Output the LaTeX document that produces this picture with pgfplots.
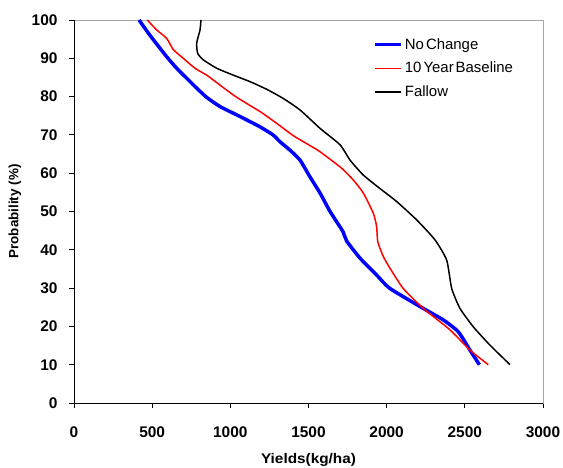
\documentclass[border=0pt]{standalone}
\usepackage{fontspec}
\setmainfont{Liberation Sans}
\newfontfamily\widefont{Liberation Sans}[FakeStretch=1.1]
\usepackage{pgfplots}
\pgfplotsset{compat=1.18}
\begin{document}
\begin{tikzpicture}[x=1bp,y=1bp]
\path[use as bounding box] (-74bp,-65bp) rectangle (489bp,403bp);
\begin{axis}[
  at={(0,0)}, anchor=south west,
  scale only axis, width=469bp, height=383bp,
  xmin=0, xmax=3000, ymin=0, ymax=100,
  xtick={0,500,...,3000}, ytick={0,10,...,100},
  tick pos=left, tick align=outside, major tick length=5bp,
  axis line style={gray!70, line width=0.8bp},
  tick style={black, line width=0.8bp},
  /pgf/number format/assume math mode=true,
  /pgf/number format/1000 sep={},
  ticklabel style={font=\fontsize{15.5}{18}\selectfont\bfseries},
  xticklabel style={yshift=-15bp},
  yticklabel style={xshift=-8bp},
  every axis y label/.style={at={(axis description cs:-0.126,0.5)}, rotate=90, anchor=center},
  every axis x label/.style={at={(axis description cs:0.5,-0.149)}, anchor=center},
  xlabel style={font=\widefont\fontsize{14}{16}\selectfont\bfseries},
  ylabel style={font=\fontsize{13.5}{16}\selectfont\bfseries},
  xlabel={Yields(kg/ha)}, ylabel={Probability (\%)},
  legend style={at={(axis description cs:0.638,0.958)}, anchor=north west, draw=none, fill=none,
    font=\fontsize{15}{17}\selectfont, row sep=7.5bp, inner sep=0pt,
    nodes={inner sep=2bp}},
  legend cell align=left,
  legend image code/.code={\draw[#1] (0bp,0bp) -- (26bp,0bp);},
  line join=round,
]
\addplot[blue, line width=3.5bp, smooth, tension=0.35] coordinates {
(416,100) (486,96) (593,90.4) (657,87.4) (721,84.8) (785,82.2) (849,79.8) (934,77.4)
(1062,74.8) (1190,72.1) (1273,70) (1318,68.2) (1382,66) (1446,63.4) (1510,59)
(1574,54.8) (1638,50) (1721,44.7) (1744,42.3) (1830,37.8) (1936,33.4) (2021,29.9)
(2234,24.7) (2362,21.7) (2458,18.6) (2533,13.8) (2593,10)
};
\addlegendentry{No\kern2bp Change}
\addplot[red, line width=1.5bp, smooth, tension=0.35] coordinates {
(469,100) (529,97.4) (593,95.2) (635,92.3) (699,90) (774,87.4) (849,85.6) (934,83)
(1041,79.8) (1190,76.1) (1297,73) (1403,69.8) (1510,67.2) (1574,65.6) (1712,61.3)
(1787,58.2) (1851,54.8) (1915,49.5) (1936,46) (1943,42.1) (1979,38.2) (2021,35.2)
(2106,29.9) (2234,24.7) (2405,19.1) (2533,13.8) (2650,10)
};
\addlegendentry{10\kern2bp Year\kern2bp Baseline}
\addplot[black, line width=1.5bp, smooth, tension=0.35] coordinates {
(812,100) (806,97.4) (785,94) (791,91.3) (827,89.6) (913,87.4) (1019,85.6) (1126,83.9)
(1233,81.9) (1339,79.5) (1446,76.5) (1574,71.7) (1702,67.4) (1766,63.4) (1851,59.5)
(1957,56) (2064,52.6) (2192,47.8) (2309,42.6) (2384,37.3) (2416,29.9) (2469,24.7)
(2554,19.9) (2661,15.1) (2789,10)
};
\addlegendentry{Fallow}
\draw[black, line width=0.8bp] (axis cs:0,100) -- (axis cs:0,0) -- (axis cs:3000,0);
\end{axis}
\end{tikzpicture}
\end{document}
